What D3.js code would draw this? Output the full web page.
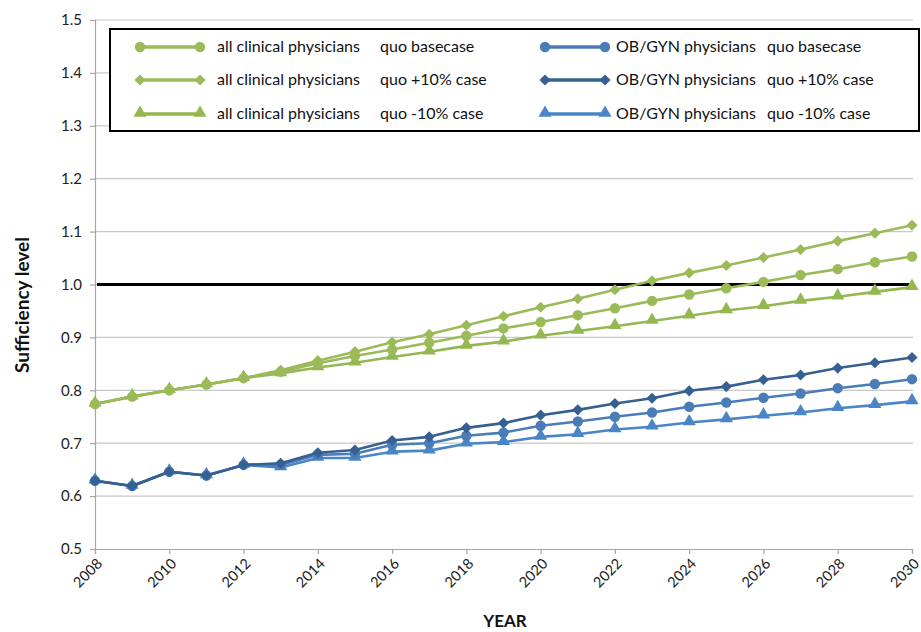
<!DOCTYPE html>
<html><head><meta charset="utf-8">
<script src="https://cdn.jsdelivr.net/npm/d3@7"></script>
<style>
html,body{margin:0;padding:0;background:#fff;}
svg{display:block;font-family:Lato,"Open Sans",sans-serif;}
</style></head>
<body>
<svg id="chart" width="921" height="632"></svg>
<script>
const years = [2008,2009,2010,2011,2012,2013,2014,2015,2016,2017,2018,2019,2020,2021,2022,2023,2024,2025,2026,2027,2028,2029,2030];
const allBase  = [0.774,0.788,0.800,0.811,0.823,0.835,0.851,0.865,0.877,0.890,0.903,0.917,0.929,0.942,0.955,0.969,0.981,0.993,1.005,1.018,1.029,1.042,1.053];
const allPlus  = [0.774,0.788,0.800,0.811,0.823,0.838,0.856,0.873,0.891,0.906,0.923,0.940,0.957,0.973,0.990,1.007,1.022,1.036,1.051,1.066,1.082,1.097,1.112];
const allMinus = [0.774,0.788,0.800,0.811,0.823,0.832,0.843,0.852,0.863,0.873,0.884,0.892,0.903,0.912,0.921,0.931,0.941,0.951,0.959,0.969,0.977,0.986,0.995];
const obBase   = [0.629,0.619,0.646,0.639,0.659,0.659,0.678,0.680,0.697,0.700,0.714,0.720,0.733,0.741,0.750,0.758,0.769,0.777,0.786,0.794,0.804,0.812,0.821];
const obPlus   = [0.629,0.619,0.646,0.639,0.659,0.662,0.682,0.687,0.705,0.712,0.729,0.738,0.753,0.763,0.775,0.785,0.799,0.807,0.820,0.829,0.842,0.852,0.862];
const obMinus  = [0.629,0.619,0.646,0.639,0.659,0.654,0.672,0.672,0.684,0.686,0.699,0.702,0.712,0.717,0.726,0.731,0.739,0.745,0.752,0.758,0.766,0.772,0.779];
const referenceLevel = 1.0;
const yTicks = [0.5,0.6,0.7,0.8,0.9,1.0,1.1,1.2,1.3,1.4,1.5];
const xTicks = [2008,2010,2012,2014,2016,2018,2020,2022,2024,2026,2028,2030];
const seriesNames = ["all clinical physicians","all clinical physicians","all clinical physicians","OB/GYN physicians","OB/GYN physicians","OB/GYN physicians"];
const caseNames = ["quo basecase","quo +10% case","quo -10% case","quo basecase","quo +10% case","quo -10% case"];

const series = [
  {values: allBase,  color:"#9bbb59", marker:"circle"},
  {values: allPlus,  color:"#9bbb59", marker:"diamond"},
  {values: allMinus, color:"#93b751", marker:"triangle"},
  {values: obBase,   color:"#4a7cb8", marker:"circle"},
  {values: obPlus,   color:"#376092", marker:"diamond"},
  {values: obMinus,  color:"#4a85c7", marker:"triangle"}
];

const svg = d3.select("#chart");
const pLeft = 95, pRight = 912, pTop = 20, pBottom = 549;
const x = d3.scaleLinear().domain([2008,2030]).range([pLeft,pRight]);
const y = d3.scaleLinear().domain([0.5,1.5]).range([pBottom,pTop]);

// gridlines
svg.append("g").selectAll("line").data(yTicks.filter(d=>d>0.5)).join("line")
  .attr("x1",pLeft).attr("x2",pRight+1).attr("y1",d=>y(d)).attr("y2",d=>y(d))
  .attr("stroke","#c8c8c8").attr("stroke-width",1.2);

// y axis
const yAxis = svg.append("g").attr("transform",`translate(${pLeft},0)`)
  .call(d3.axisLeft(y).tickValues(yTicks).tickFormat(d3.format(".1f")).tickSize(5).tickPadding(8));
yAxis.select(".domain").attr("stroke","#a6a6a6").attr("stroke-width",1.2);
yAxis.selectAll(".tick line").attr("stroke","#a6a6a6").attr("stroke-width",1.2);
yAxis.selectAll("text").attr("font-size",15).attr("fill","#222").attr("font-family","Lato,sans-serif");

// x axis
const xAxis = svg.append("g").attr("transform",`translate(0,${pBottom})`)
  .call(d3.axisBottom(x).tickValues(xTicks).tickFormat(d3.format("d")).tickSize(5));
xAxis.select(".domain").attr("stroke","#a6a6a6").attr("stroke-width",1.2);
xAxis.selectAll(".tick line").attr("stroke","#a6a6a6").attr("stroke-width",1.2);
xAxis.selectAll("text").attr("font-size",14.5).attr("fill","#222").attr("font-family","Lato,sans-serif")
  .attr("text-anchor","end").attr("y",0).attr("x",0).attr("dy","0.35em")
  .attr("transform","translate(4,12) rotate(-45)");

// reference line
svg.append("line").attr("x1",x(2008)+2).attr("x2",x(2030)).attr("y1",y(referenceLevel)).attr("y2",y(referenceLevel))
  .attr("stroke","#000").attr("stroke-width",3);

function symbolPath(m){
  if(m==="circle") return d3.symbol(d3.symbolCircle,85)();
  if(m==="diamond") return d3.symbol(d3.symbolSquare,62)();
  return d3.symbol(d3.symbolTriangle,75)();
}
function symbolTransform(m,px,py){
  if(m==="diamond") return `translate(${px},${py}) rotate(45)`;
  if(m==="triangle") return `translate(${px},${py-1})`;
  return `translate(${px},${py})`;
}

const line = d3.line().x((d,i)=>x(years[i])).y(d=>y(d));
const drawOrder = [2,0,1,5,3,4];
drawOrder.forEach(k=>{
  const s = series[k];
  svg.append("path").datum(s.values).attr("d",line).attr("fill","none")
    .attr("stroke",s.color).attr("stroke-width",2.6).attr("stroke-linejoin","round");
  svg.append("g").selectAll("path").data(s.values).join("path")
    .attr("d",symbolPath(s.marker))
    .attr("transform",(d,i)=>symbolTransform(s.marker,x(years[i]),y(d)))
    .attr("fill",s.color);
});

// legend
const lg = svg.append("g");
lg.append("rect").attr("x",110).attr("y",29).attr("width",809).attr("height",102)
  .attr("fill","#fff").attr("stroke","#000").attr("stroke-width",2);
const rowY = [47,80,114];
series.forEach((s,k)=>{
  const col = k<3?0:1, row = k%3;
  const x0 = col===0?140:545, x1 = col===0?200:605;
  const tx = col===0?217:616, tx2 = col===0?380:767;
  const yy = rowY[row];
  lg.append("line").attr("x1",x0).attr("x2",x1).attr("y1",yy).attr("y2",yy)
    .attr("stroke",s.color).attr("stroke-width",3.5);
  [x0,x1].forEach(px=>{
    lg.append("path").attr("d",symbolPath(s.marker)).attr("transform",symbolTransform(s.marker,px,yy)).attr("fill",s.color);
  });
  lg.append("text").attr("x",tx).attr("y",yy+5).attr("font-size",16).attr("fill","#111").text(seriesNames[k]);
  lg.append("text").attr("x",tx2).attr("y",yy+5).attr("font-size",16).attr("fill","#111").text(caseNames[k]);
});

// axis titles
svg.append("text").attr("x",505).attr("y",627).attr("text-anchor","middle")
  .attr("font-size",17).attr("font-weight","bold").attr("fill","#111").text("YEAR");
svg.append("text").attr("transform","translate(29,305) rotate(-90)").attr("text-anchor","middle")
  .attr("font-size",19).attr("font-weight","bold").attr("fill","#111").text("Sufficiency level");
</script>
</body></html>
